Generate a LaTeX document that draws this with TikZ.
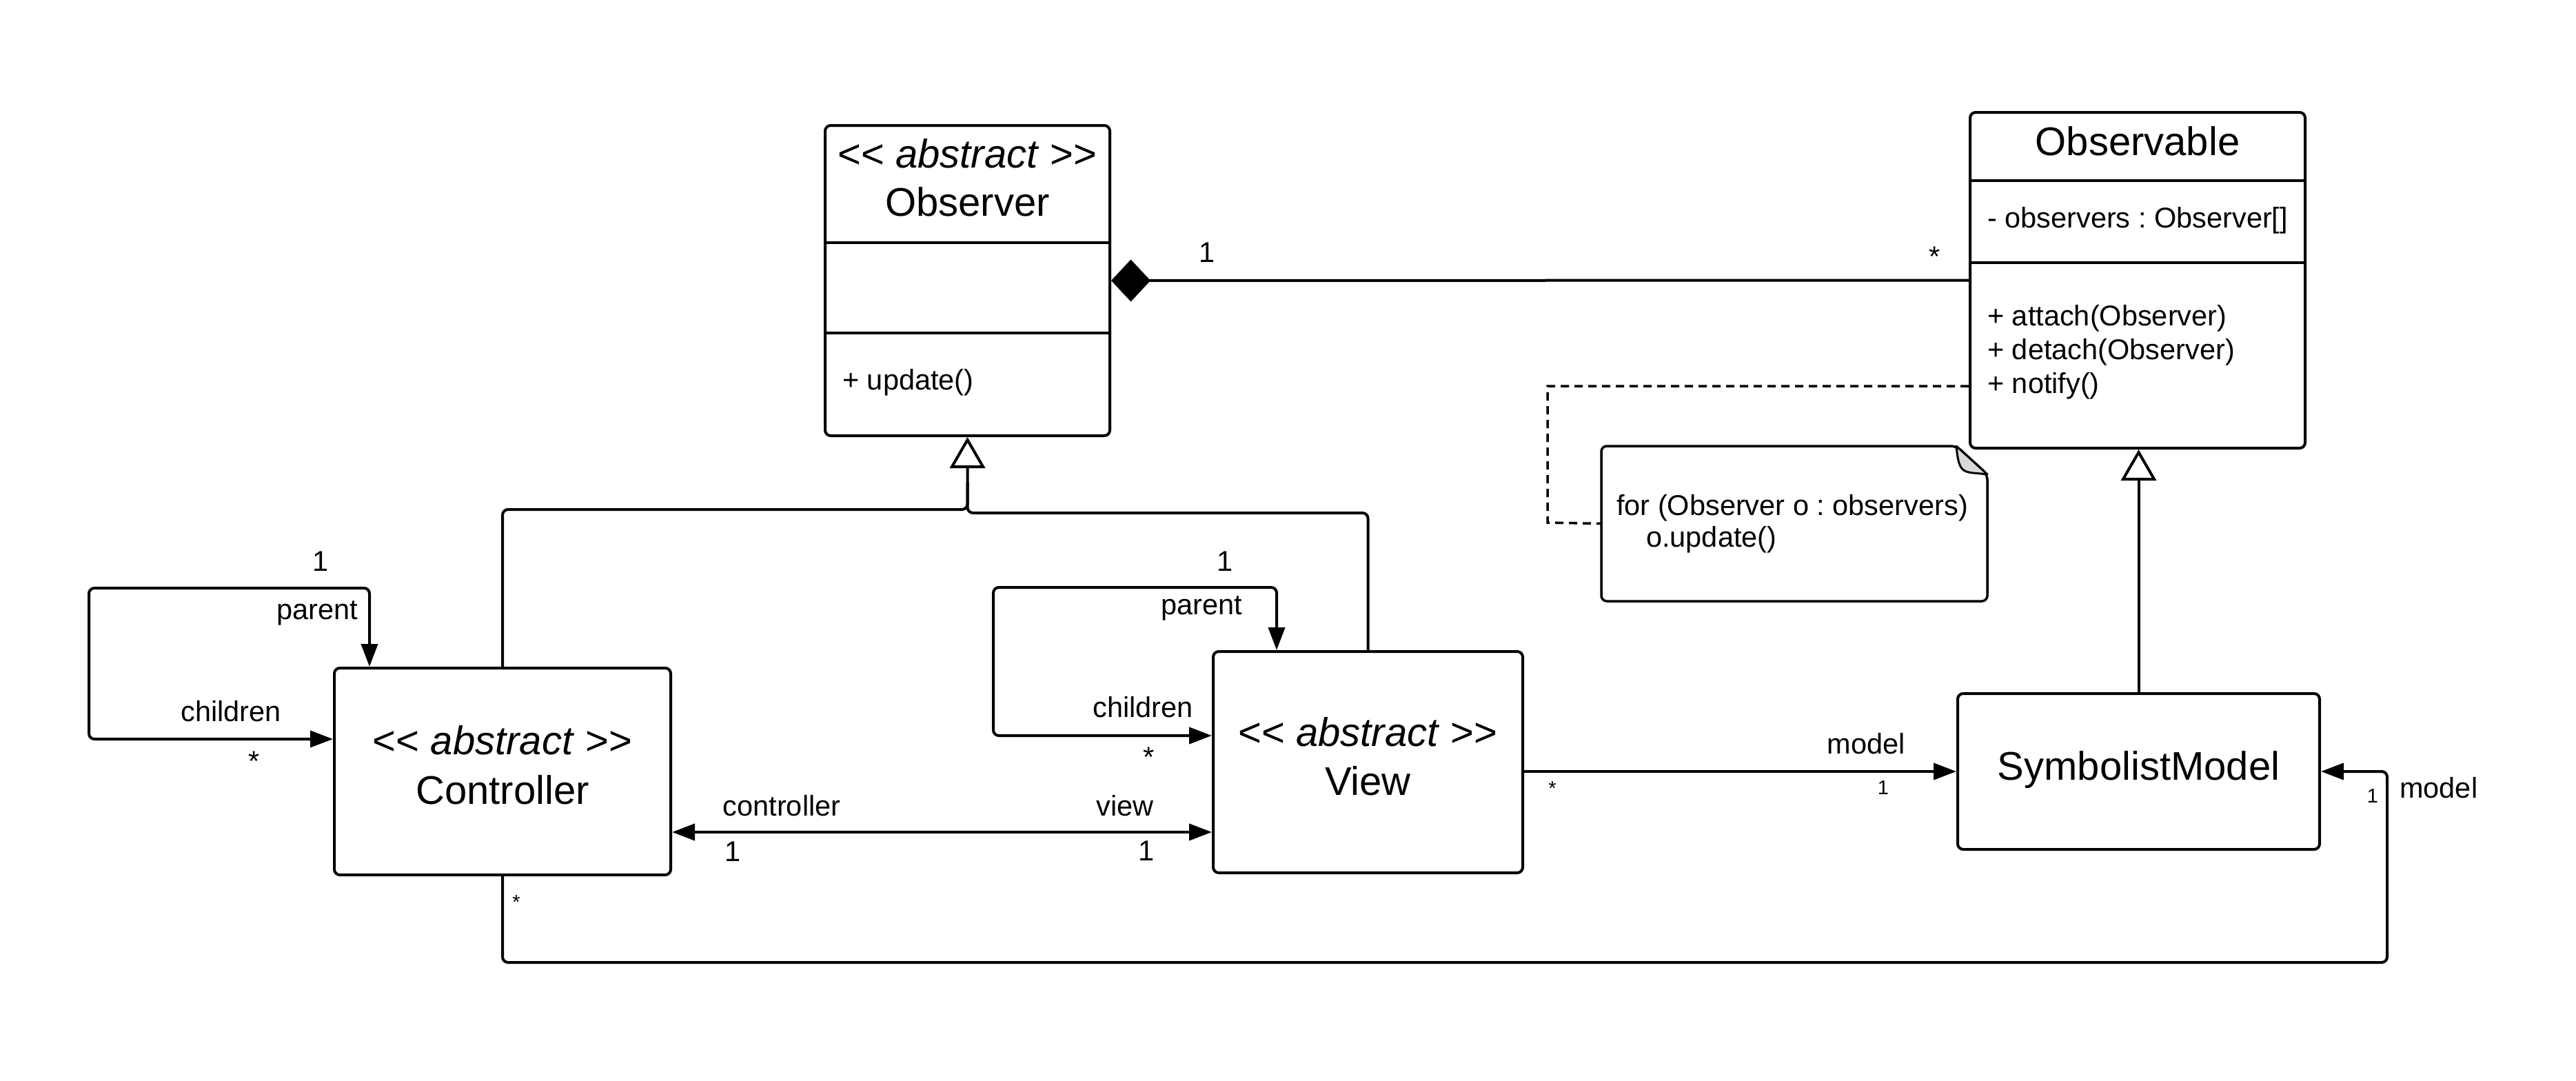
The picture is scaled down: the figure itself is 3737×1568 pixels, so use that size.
\documentclass[tikz,border=0pt]{standalone}
\usepackage{fontspec}
\setmainfont{Liberation Sans}
\usetikzlibrary{arrows.meta}
\newcommand\fsTitle{\fontsize{58}{66}\selectfont}
\newcommand\fsText{\fontsize{41.5}{48}\selectfont}
\newcommand\fsSmall{\fontsize{29}{34}\selectfont}
\newcommand\LLt{\mbox{<}\mbox{<}}
\newcommand\GGt{\mbox{>}\mbox{>}}
\frenchspacing
\begin{document}
\begin{tikzpicture}[x=1pt,y=-1pt,
  box/.style={draw, line width=4pt, rounded corners=8pt, inner sep=0pt, fill=white},
  conn/.style={line width=4pt, rounded corners=8pt},
  headtip/.style={-{Triangle[length=33pt,width=24pt]}},
  bothtip/.style={{Triangle[length=33pt,width=24pt]}-{Triangle[length=33pt,width=24pt]}},
  gentip/.style={-{Triangle[open,length=45pt,width=51pt]}},
  comptip/.style={{Diamond[length=57pt,width=61pt]}-},
  titletxt/.style={inner sep=0pt, font=\fsTitle},
  txt/.style={inner sep=0pt, font=\fsText},
  smalllbl/.style={inner sep=0pt, font=\fsSmall},
  divider/.style={line width=4pt},
  dashedconn/.style={line width=3.5pt, dash pattern=on 12pt off 8pt},
]
\fill[white] (0,0) rectangle (3737,1568);
\useasboundingbox (0,0) rectangle (3737,1568);

% ---------- Observer ----------
\node[box, minimum width=413pt, minimum height=450pt] (observer) at (1403.5,407) {};
\draw[divider] (1197,352) -- (1610,352);
\draw[divider] (1197,483) -- (1610,483);
\node[titletxt, anchor=base] (obsst) at (1403.5,243) {\LLt{} \textit{abstract} \GGt};
\node[titletxt, anchor=base] (obsname) at (1403.5,313) {Observer};
\node[txt, anchor=base west] (obsop) at (1222,565) {+ update()};

% ---------- Observable ----------
\node[box, minimum width=486pt, minimum height=487pt] (observable) at (3101,406.5) {};
\draw[divider] (2858,262) -- (3344,262);
\draw[divider] (2858,381) -- (3344,381);
\node[titletxt, anchor=base] (oblname) at (3101,225) {Observable};
\node[txt, anchor=base west] (oblattr) at (2883,330) {- observers : Observer[]};
\node[txt, anchor=base west] (oblm1) at (2883,472) {+ attach(Observer)};
\node[txt, anchor=base west] (oblm2) at (2883,521) {+ detach(Observer)};
\node[txt, anchor=base west] (oblm3) at (2883,570) {+ notify()};

% ---------- Note ----------
\node[minimum width=560pt, minimum height=225pt, inner sep=0pt] (note) at (2603,759.5) {};
\draw[line width=3.5pt, rounded corners=8pt, fill=white]
  (2838,647) -- (2323,647) -- (2323,872) -- (2883,872) -- (2883,688) -- cycle;
\draw[line width=3pt, fill=gray!30, line join=round]
  (2838,647) .. controls (2842,690) and (2848,684) .. (2883,688) -- cycle;
\node[txt, anchor=base west] (note1) at (2345,747) {for (Observer o : observers)};
\node[txt, anchor=base west] (note2) at (2388,793) {o.update()};

% ---------- Controller / View / Model ----------
\node[box, minimum width=488pt, minimum height=300pt] (controller) at (729,1119) {};
\node[titletxt, anchor=base] (ctst) at (729,1094) {\LLt{} \textit{abstract} \GGt};
\node[titletxt, anchor=base] (ctname) at (729,1166) {Controller};

\node[box, minimum width=449pt, minimum height=321pt] (view) at (1984.5,1105.5) {};
\node[titletxt, anchor=base] (vwst) at (1984.5,1082) {\LLt{} \textit{abstract} \GGt};
\node[titletxt, anchor=base] (vwname) at (1984.5,1153) {View};

\node[box, minimum width=525pt, minimum height=226pt] (model) at (3102.5,1119) {};
\node[titletxt, anchor=base] (mdname) at (3102.5,1131) {SymbolistModel};

% ---------- Composition ----------
\draw[conn, comptip] (observer.east) -- (observable.west);
\node[txt, anchor=base] (c1) at (1751,380) {1};
\node[txt, anchor=base] (c2) at (2807,386) {*};

% ---------- Dashed note link ----------
\coordinate (dashY) at (0,560);
\coordinate (dashA) at (2245,560);
\coordinate (dashB) at (2245,758);
\draw[dashedconn] (observable.west |- dashY) -- (dashA) -- (dashB) -- (note.west);

% ---------- Generalizations ----------
\coordinate (gj1) at (1403.5,739);
\coordinate (gj2) at (1403.5,744);
\coordinate (gj3) at (1403.5,700);
\draw[conn, gentip] (controller.north) |- (gj1) -- (observer.south);
\draw[conn] (view.north) |- (gj2) -- (gj3);
\draw[conn, gentip] (model.north) -- (model.north |- observable.south);

% ---------- Controller self association ----------
\coordinate (cl1) at (129,853);
\draw[conn, bothtip] ([yshift=47pt]controller.west) -| (cl1) -| ([xshift=-193pt]controller.north);
\node[txt, anchor=base] (cl1l) at (465,828) {1};
\node[txt, anchor=base east] (clpar) at (519,898) {parent};
\node[txt, anchor=base] (clch) at (335,1046) {children};
\node[txt, anchor=base] (clst) at (369,1118) {*};

% ---------- View self association ----------
\coordinate (vl1) at (1441,852);
\draw[conn, bothtip] ([yshift=38.5pt]view.west) -| (vl1) -| ([xshift=-132.5pt]view.north);
\node[txt, anchor=base] (vl1l) at (1777,828) {1};
\node[txt, anchor=base east] (vlpar) at (1802,891) {parent};
\node[txt, anchor=base] (vlch) at (1658,1040) {children};
\node[txt, anchor=base] (vlst) at (1667,1112) {*};

% ---------- Controller <-> View ----------
\coordinate (cvY) at (0,1207);
\draw[conn, bothtip] (controller.east |- cvY) -- (view.west |- cvY);
\node[txt, anchor=base] (cvctl) at (1134,1183) {controller};
\node[txt, anchor=base] (cvvw) at (1632,1183) {view};
\node[txt, anchor=base] (cv1a) at (1063,1249) {1};
\node[txt, anchor=base] (cv1b) at (1663,1248) {1};

% ---------- View -> Model ----------
\draw[conn, headtip] (view.east |- model.west) -- (model.west);
\node[txt, anchor=base] (vmlbl) at (2707,1093) {model};
\node[smalllbl, anchor=base] (vm1) at (2732,1152) {1};
\node[smalllbl, anchor=base] (vmst) at (2252,1153) {*};

% ---------- Controller -> Model ----------
\coordinate (bl) at (3463,1396);
\draw[conn, headtip] (controller.south) |- (bl) |- (model.east);
\node[smalllbl, anchor=base] (cmst) at (749,1318) {*};
\node[smalllbl, anchor=base] (cm1) at (3442,1164) {1};
\node[txt, anchor=base west] (cmlbl) at (3481,1157) {model};
\end{tikzpicture}
\end{document}
